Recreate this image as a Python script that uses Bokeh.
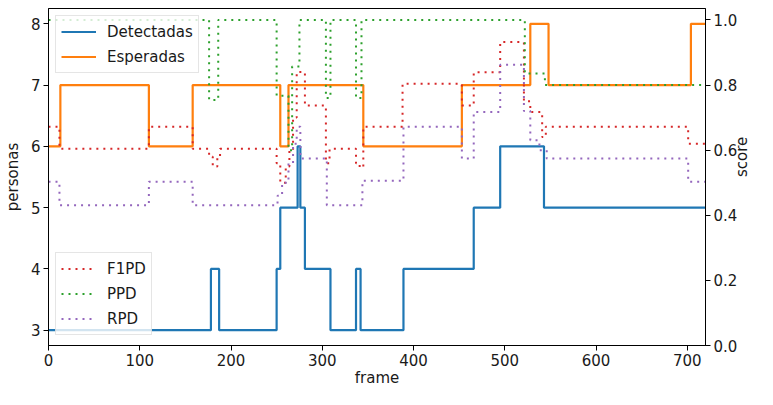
import math
from bokeh.plotting import figure
from bokeh.models import Range1d, LinearAxis, Legend, LegendItem, FixedTicker, PrintfTickFormatter
from bokeh.embed import file_html
from bokeh.resources import INLINE

# ---- data (step series: value holds from frame until next frame) ----
frames_det = [0, 178, 187, 250, 254, 273, 276, 281, 309, 337, 342, 389, 466, 495, 543, 720]
detectadas = [3, 4, 3, 4, 5, 6, 5, 4, 3, 4, 3, 4, 5, 6, 5, 5]

frames_esp = [0, 13, 110, 158, 254, 263, 345, 453, 528, 548, 704, 720]
esperadas = [6, 7, 6, 7, 6, 7, 6, 7, 8, 7, 8, 8]

frames_f1 = [0, 12, 110, 158, 176, 180, 185, 188, 250, 254, 260, 264, 268, 272, 281,
             304, 308, 337, 341, 345, 388, 453, 466, 495, 521, 528, 541, 545, 701, 720]
f1pd = [0.672, 0.604, 0.672, 0.604, 0.58, 0.55, 0.58, 0.604, 0.56, 0.50, 0.55, 0.60, 0.70, 0.84, 0.737,
        0.56, 0.604, 0.56, 0.547, 0.672, 0.804, 0.737, 0.839, 0.932, 0.75, 0.717, 0.64, 0.672, 0.62, 0.62]

frames_p = [0, 176, 186, 250, 263, 267, 275, 304, 309, 337, 343, 522, 544, 720]
ppd = [1.0, 0.754, 1.0, 0.767, 0.60, 0.857, 1.0, 0.76, 1.0, 0.76, 1.0, 0.835, 0.80, 0.80]

frames_r = [0, 12, 110, 158, 251, 256, 263, 268, 272, 276, 305, 344, 389, 453, 466, 495,
            521, 528, 538, 546, 701, 720]
rpd = [0.503, 0.431, 0.503, 0.431, 0.46, 0.50, 0.56, 0.62, 0.672, 0.574, 0.431, 0.506, 0.672, 0.574, 0.717, 0.862,
       0.72, 0.63, 0.60, 0.574, 0.503, 0.503]

x_ticks = [0, 100, 200, 300, 400, 500, 600, 700]
left_ticks = [3, 4, 5, 6, 7, 8]
right_ticks = [0.0, 0.2, 0.4, 0.6, 0.8, 1.0]

FONT = "DejaVu Sans"
TXT = "#1a1a1a"

p = figure(frame_width=657, frame_height=337, output_backend="svg", toolbar_location=None,
           x_range=Range1d(0, 720), y_range=Range1d(2.75, 8.25),
           min_border_left=48, min_border_right=0, min_border_top=8, min_border_bottom=0)
p.extra_y_ranges = {"score": Range1d(0, 1.035)}
p.xgrid.visible = False
p.ygrid.visible = False
p.outline_line_color = "black"
p.outline_line_width = 1
p.background_fill_color = "white"
p.border_fill_color = "white"

right = LinearAxis(y_range_name="score")
p.add_layout(right, "right")

for ax in [p.xaxis[0], p.yaxis[0], right]:
    ax.major_tick_out = 5
    ax.major_tick_in = 0
    ax.minor_tick_out = 0
    ax.minor_tick_in = 0
    ax.axis_line_color = "black"
    ax.major_tick_line_color = "black"
    ax.major_label_text_font = FONT
    ax.major_label_text_font_size = "15px"
    ax.major_label_text_color = TXT
    ax.axis_label_text_font = FONT
    ax.axis_label_text_font_size = "15px"
    ax.axis_label_text_font_style = "normal"
    ax.axis_label_text_color = TXT
    ax.major_label_standoff = 3
    ax.axis_label_standoff = 2

p.xaxis[0].ticker = FixedTicker(ticks=x_ticks)
p.xaxis[0].axis_label = "frame"
p.xaxis[0].axis_label_standoff = 0
p.yaxis[0].ticker = FixedTicker(ticks=left_ticks)
p.yaxis[0].axis_label = "personas"
p.yaxis[0].axis_label_standoff = 6
right.ticker = FixedTicker(ticks=right_ticks)
right.formatter = PrintfTickFormatter(format="%.1f")
right.axis_label = "score"
right.axis_label_orientation = math.pi / 2

r_det = p.step(frames_det, detectadas, mode="after", line_color="#1f77b4", line_width=2.2)
r_esp = p.step(frames_esp, esperadas, mode="after", line_color="#ff7f0e", line_width=2.2)

dot = dict(mode="after", line_width=2, line_dash="2 5", y_range_name="score")
r_f1 = p.step(frames_f1, f1pd, line_color="#d62728", **dot)
r_p = p.step(frames_p, ppd, line_color="#2ca02c", **dot)
r_r = p.step(frames_r, rpd, line_color="#9467bd", **dot)

common = dict(border_line_color="#cccccc", border_line_width=1, background_fill_color="white",
              background_fill_alpha=0.8, label_text_font=FONT, label_text_font_size="15px",
              label_text_color=TXT, glyph_width=35, glyph_height=21, label_height=21,
              spacing=4, padding=5, label_standoff=11)

leg1 = Legend(items=[LegendItem(label="Detectadas", renderers=[r_det]),
                     LegendItem(label="Esperadas", renderers=[r_esp])],
              location="top_left", margin=7, **common)
leg1.level = "underlay"
leg2 = Legend(items=[LegendItem(label="F1PD", renderers=[r_f1]),
                     LegendItem(label="PPD", renderers=[r_p]),
                     LegendItem(label="RPD", renderers=[r_r])],
              location=(7, 10), margin=0, **common)
p.add_layout(leg1, "center")
p.add_layout(leg2, "center")

open("out.html", "w").write(file_html(p, INLINE))
